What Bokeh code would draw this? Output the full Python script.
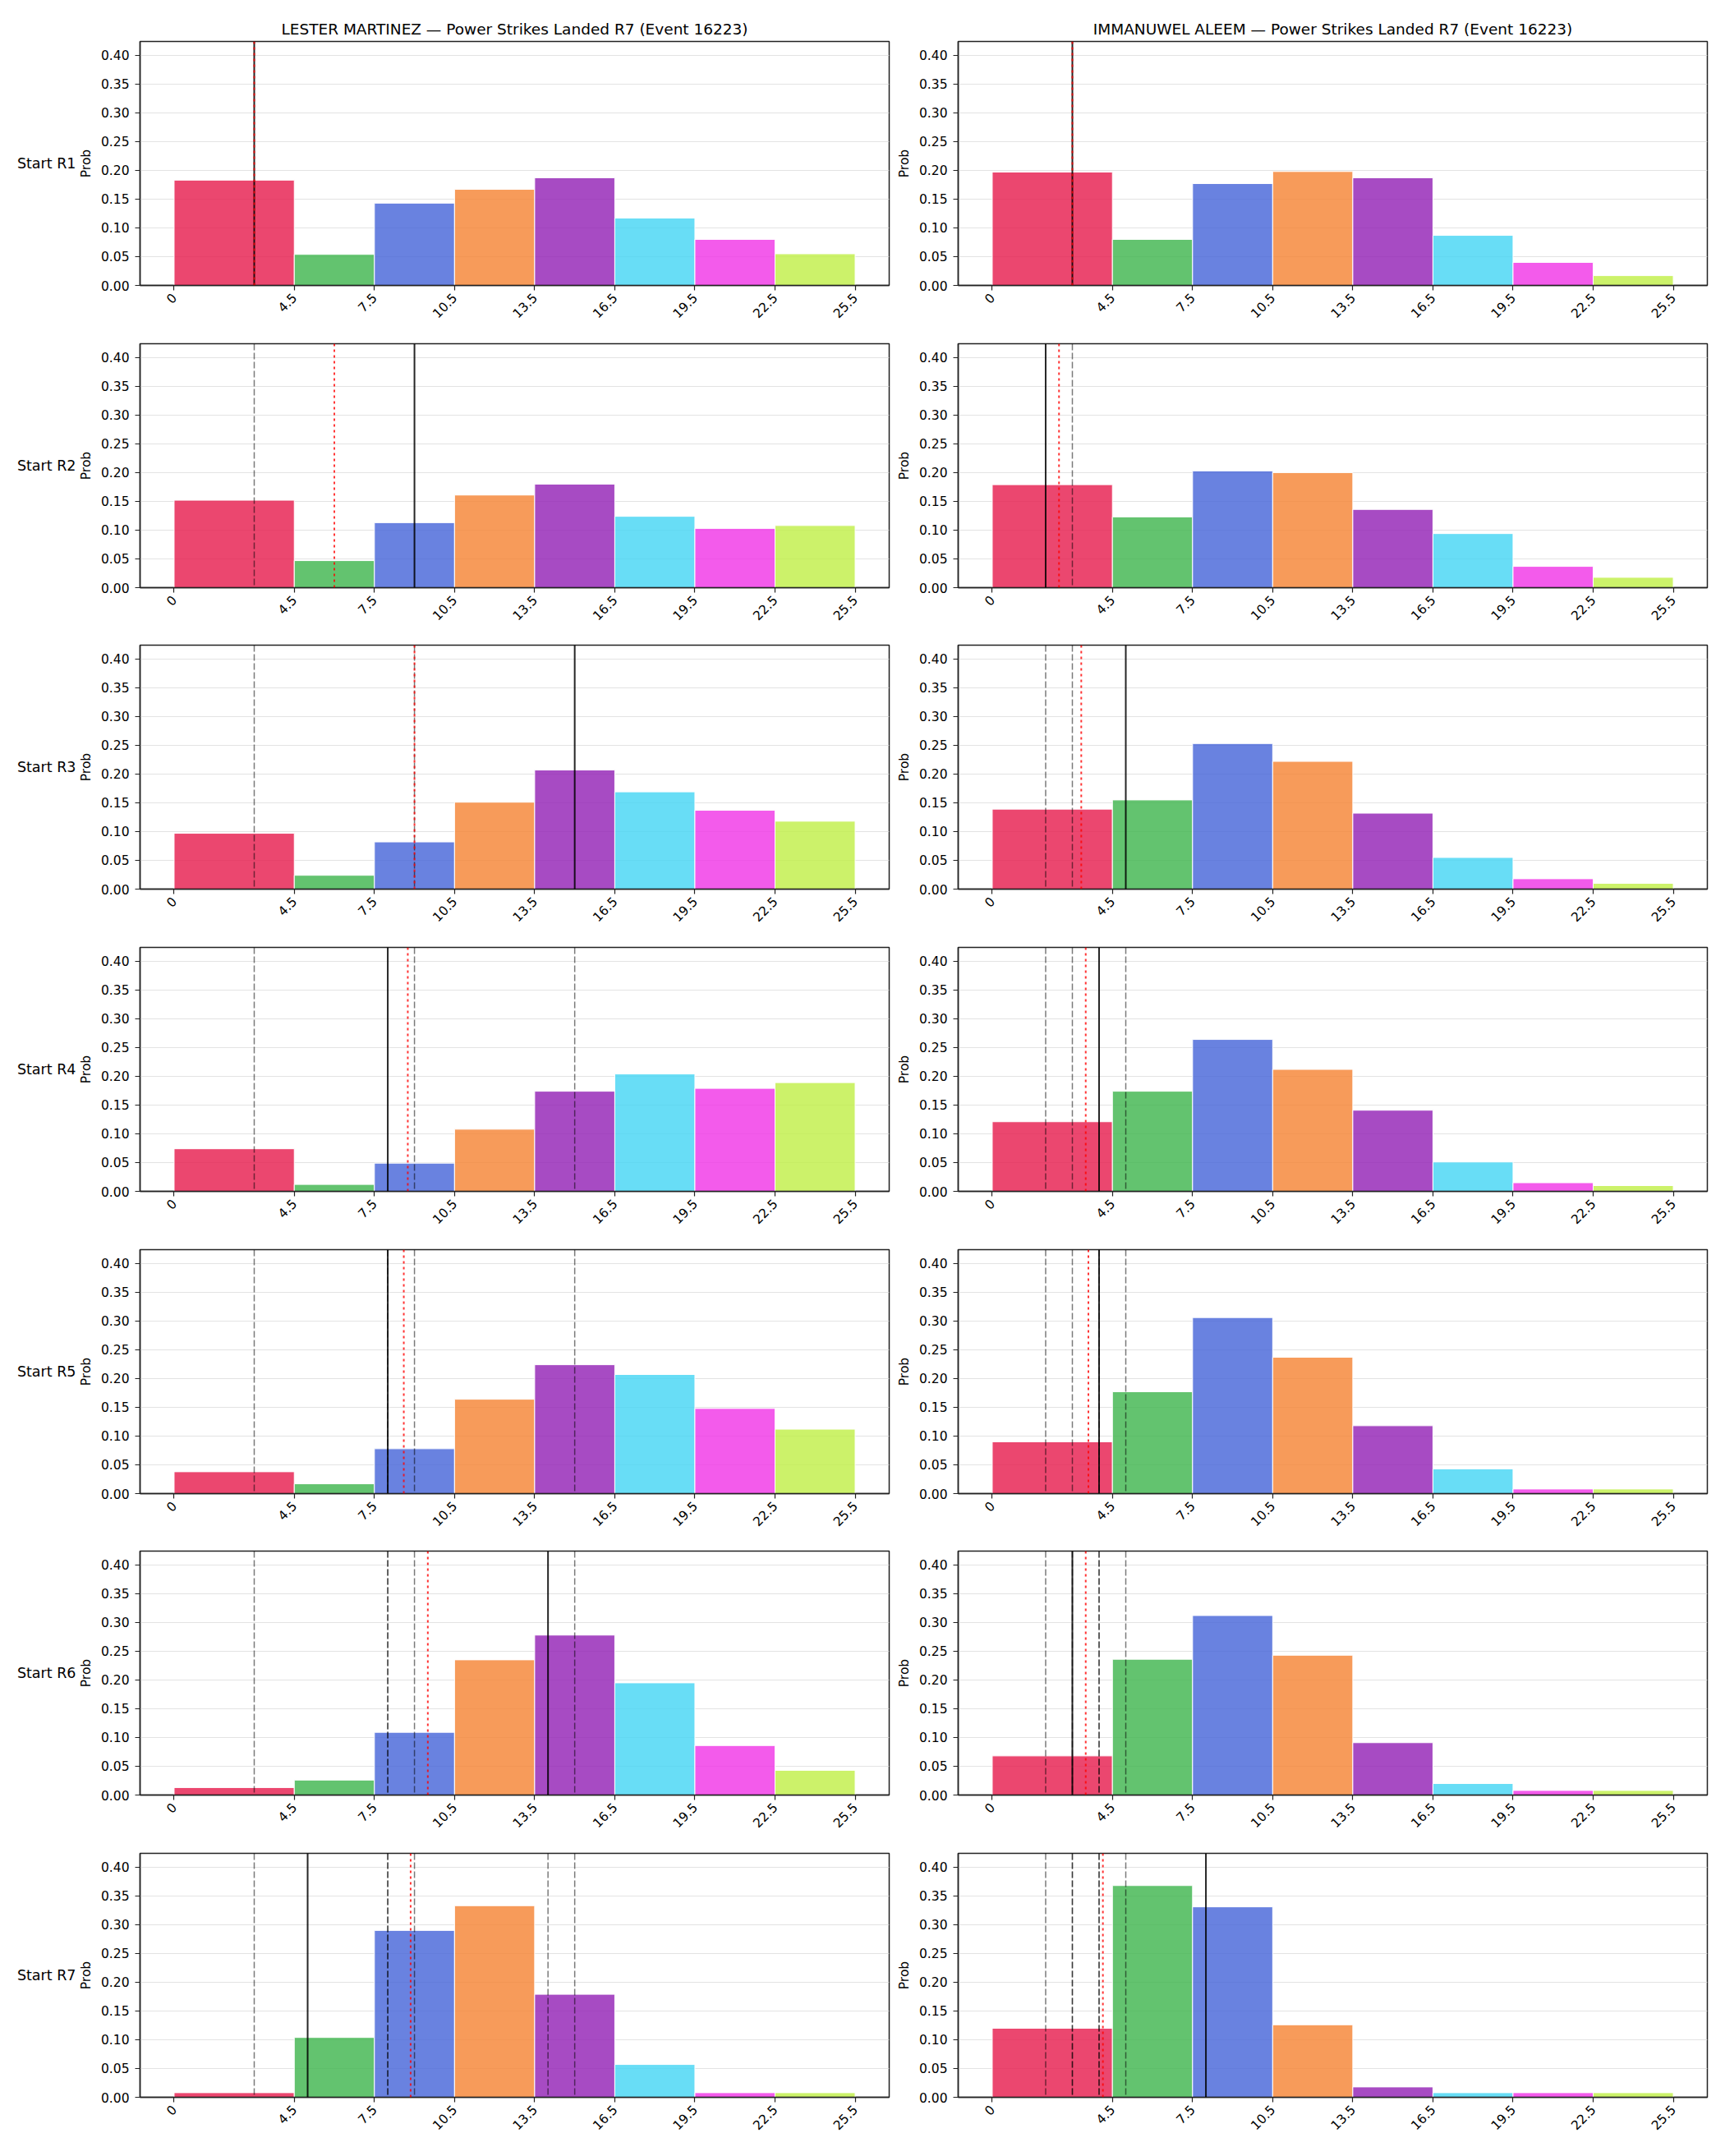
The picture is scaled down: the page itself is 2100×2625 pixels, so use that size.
import math
from bokeh.plotting import figure
from bokeh.models import Range1d, FixedTicker, Span, ColumnDataSource, PrintfTickFormatter, LinearAxis
from bokeh.layouts import column, row
from bokeh.embed import file_html
from bokeh.resources import INLINE

# ---------------- data ----------------
bin_edges = [0, 4.5, 7.5, 10.5, 13.5, 16.5, 19.5, 22.5, 25.5]
tick_labels = ["0", "4.5", "7.5", "10.5", "13.5", "16.5", "19.5", "22.5", "25.5"]
bin_colors = ["#e6194b", "#3cb44b", "#4363d8", "#f58231", "#911eb4", "#42d4f4", "#f032e6", "#bfef45"]
y_ticks = [0.0, 0.05, 0.10, 0.15, 0.20, 0.25, 0.30, 0.35, 0.40]
round_labels = ["Start R1", "Start R2", "Start R3", "Start R4", "Start R5", "Start R6", "Start R7"]
titles = ["LESTER MARTINEZ \u2014 Power Strikes Landed R7 (Event 16223)",
          "IMMANUWEL ALEEM \u2014 Power Strikes Landed R7 (Event 16223)"]

martinez_probs = [
    [0.183, 0.054, 0.143, 0.167, 0.187, 0.117, 0.080, 0.055],
    [0.152, 0.047, 0.113, 0.161, 0.180, 0.124, 0.103, 0.108],
    [0.097, 0.024, 0.082, 0.151, 0.207, 0.169, 0.137, 0.118],
    [0.074, 0.012, 0.049, 0.108, 0.174, 0.204, 0.179, 0.189],
    [0.038, 0.017, 0.078, 0.164, 0.224, 0.207, 0.148, 0.112],
    [0.013, 0.026, 0.109, 0.235, 0.278, 0.195, 0.086, 0.043],
    [0.008, 0.104, 0.290, 0.333, 0.179, 0.057, 0.008, 0.008],
]
aleem_probs = [
    [0.197, 0.080, 0.177, 0.198, 0.187, 0.087, 0.040, 0.017],
    [0.179, 0.123, 0.203, 0.200, 0.136, 0.094, 0.037, 0.018],
    [0.139, 0.155, 0.253, 0.222, 0.132, 0.055, 0.018, 0.010],
    [0.121, 0.174, 0.264, 0.212, 0.141, 0.051, 0.015, 0.010],
    [0.090, 0.177, 0.306, 0.237, 0.118, 0.043, 0.008, 0.008],
    [0.068, 0.236, 0.312, 0.243, 0.091, 0.020, 0.008, 0.008],
    [0.120, 0.368, 0.331, 0.126, 0.018, 0.008, 0.008, 0.008],
]
martinez_actual = [3, 9, 15, 8, 8, 14, 5]
aleem_actual = [3, 2, 5, 4, 4, 3, 8]
martinez_mean = [3.0, 6.0, 9.0, 8.75, 8.6, 9.5, 8.857]
aleem_mean = [3.0, 2.5, 3.333, 3.5, 3.6, 3.5, 4.143]

# ---------------- layout ----------------
FONT = "DejaVu Sans"
TICK_SIZE = "15.5px"
BIG_SIZE = "18.5px"
ROW_SIZE = "17.5px"
FRAME_W, FRAME_H = 912, 297
X0, X1 = -1.275, 26.775
PITCH = 367.7
FIRST_TOP = 50
frame_tops = [round(FIRST_TOP + r * PITCH) for r in range(7)]
TOTAL_H = 2625


def style_axis(ax):
    ax.axis_line_color = "#222222"
    ax.axis_line_width = 1.5
    ax.major_tick_line_color = "#222222"
    ax.major_tick_line_width = 1.2
    ax.major_tick_out = 6
    ax.major_tick_in = 0
    ax.minor_tick_line_color = None
    ax.major_label_text_font = FONT
    ax.major_label_text_font_size = TICK_SIZE
    ax.major_label_text_color = "black"
    ax.axis_label_text_font = FONT
    ax.axis_label_text_font_size = TICK_SIZE
    ax.axis_label_text_font_style = "normal"
    ax.axis_label_text_color = "black"


def make_panel(r, c):
    probs = (martinez_probs if c == 0 else aleem_probs)[r]
    actual = martinez_actual if c == 0 else aleem_actual
    mean = (martinez_mean if c == 0 else aleem_mean)[r]

    top_b = FIRST_TOP if r == 0 else 10
    fig_top = frame_tops[r] - top_b
    fig_bottom = (frame_tops[r + 1] - 10) if r < 6 else TOTAL_H
    bottom_b = fig_bottom - fig_top - top_b - FRAME_H

    if c == 0:
        lb, rb = 170, 4
    else:
        lb, rb = 80, 22

    p = figure(frame_width=FRAME_W, frame_height=FRAME_H,
               x_range=Range1d(X0, X1), y_range=Range1d(0, 0.424),
               output_backend="svg", toolbar_location=None,
               min_border_left=lb, min_border_right=rb,
               min_border_top=top_b, min_border_bottom=bottom_b,
               title=titles[c] if r == 0 else None)
    p.background_fill_color = "white"
    p.border_fill_color = "white"
    p.outline_line_color = "#222222"
    p.outline_line_width = 1.5
    p.outline_line_alpha = 1.0

    if r == 0:
        p.title.text_font = FONT
        p.title.text_font_size = BIG_SIZE
        p.title.text_font_style = "normal"
        p.title.align = "center"
        p.title.text_color = "black"

    src = ColumnDataSource(dict(left=bin_edges[:-1], right=bin_edges[1:],
                                top=probs, color=bin_colors))
    p.quad(left="left", right="right", bottom=0, top="top", source=src,
           fill_color="color", fill_alpha=0.8, line_color="white", line_width=1)

    for prev in actual[:r]:
        p.add_layout(Span(location=prev, dimension="height", line_color="black",
                          line_alpha=0.52, line_width=1.5, line_dash="8 3"))
    p.add_layout(Span(location=actual[r], dimension="height", line_color="black",
                      line_alpha=0.85, line_width=2))
    p.add_layout(Span(location=mean, dimension="height", line_color="red",
                      line_alpha=0.8, line_width=2, line_dash="3 4"))

    p.xgrid.visible = False
    p.ygrid.grid_line_color = "#e3e3e3"
    p.ygrid.grid_line_width = 1

    p.xaxis.ticker = FixedTicker(ticks=bin_edges)
    p.xaxis.major_label_overrides = {t: s for t, s in zip(bin_edges, tick_labels)}
    p.xaxis.major_label_orientation = math.pi / 4
    p.yaxis.ticker = FixedTicker(ticks=y_ticks)
    p.yaxis.formatter = PrintfTickFormatter(format="%.2f")
    p.yaxis.axis_label = "Prob"

    style_axis(p.xaxis[0])
    style_axis(p.yaxis[0])
    p.yaxis.major_label_standoff = 7
    p.xaxis.major_label_standoff = 6
    p.yaxis.axis_label_standoff = 6

    if c == 0:
        row_axis = LinearAxis(ticker=FixedTicker(ticks=[]), axis_label=round_labels[r])
        row_axis.axis_line_color = None
        row_axis.major_tick_line_color = None
        row_axis.minor_tick_line_color = None
        row_axis.major_label_text_font_size = "0px"
        row_axis.major_label_standoff = 0
        row_axis.axis_label_standoff = 0
        row_axis.axis_label_text_font = FONT
        row_axis.axis_label_text_font_size = ROW_SIZE
        row_axis.axis_label_text_font_style = "normal"
        row_axis.axis_label_text_color = "black"
        row_axis.axis_label_orientation = "horizontal"
        p.add_layout(row_axis, "left")
    return p


rows = []
for r in range(7):
    rows.append(row(make_panel(r, 0), make_panel(r, 1)))
layout = column(*rows)

open("out.html", "w").write(file_html(layout, INLINE))
